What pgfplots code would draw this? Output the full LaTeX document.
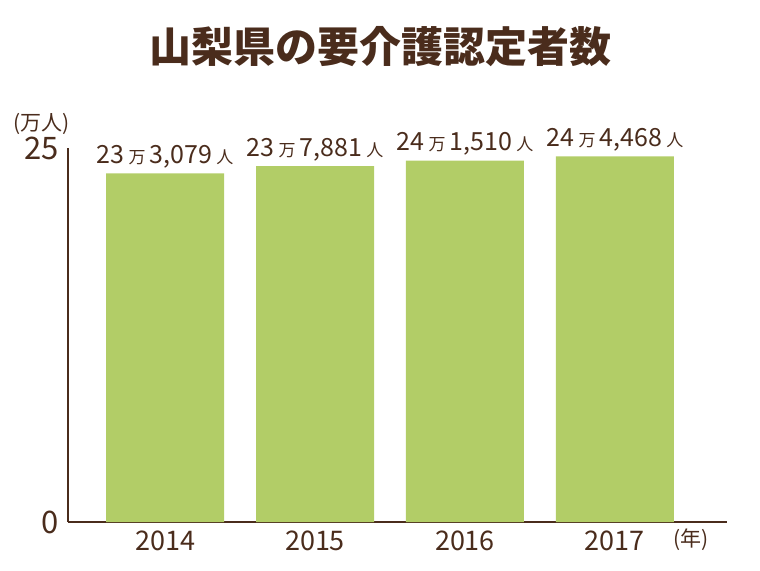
\documentclass[border=0pt]{standalone}
\usepackage{fontspec}
\setmainfont{Noto Sans CJK JP}
\usepackage{pgfplots}
\pgfplotsset{compat=1.18}
\definecolor{brn}{HTML}{4A2C1C}
\definecolor{bargreen}{HTML}{B2CD67}
\newcommand{\lab}[2]{\fontsize{12.5}{13}\selectfont #1\,{\fontsize{8.5}{9}\selectfont 万}\,#2\,{\fontsize{8.5}{9}\selectfont 人}}
\begin{document}
\begin{tikzpicture}
\path[use as bounding box] (0,0) rectangle (380pt,285pt);
\node[text=brn, font=\fontsize{21}{24}\selectfont\bfseries] at (190pt,261.5pt) {山梨県の要介護認定者数};
\begin{axis}[
  at={(34pt,24pt)}, anchor=south west,
  scale only axis, width=329.5pt, height=187pt,
  xmin=-0.647, xmax=3.747, ymin=0, ymax=25,
  axis x line=bottom, axis y line=left,
  axis line style={-, draw=brn, line width=0.6pt},
  xtick={0,1,2,3}, xticklabels={2014,2015,2016,2017},
  ytick={0,25},
  major tick length=0pt,
  tick label style={text=brn},
  xticklabel style={font=\fontsize{13.5}{15}\selectfont, yshift=-1pt},
  yticklabel style={font=\fontsize{15.5}{17}\selectfont, xshift=-1pt},
  /pgf/number format/assume math mode=true,
  ybar, bar width=59pt,
  clip=false,
  point meta=explicit symbolic,
  nodes near coords,
  nodes near coords style={text=brn, yshift=-1pt},
]
\addplot[fill=bargreen, draw=none] coordinates {
  (0,23.3079) [\lab{23}{3{,}079}]
  (1,23.7881) [\lab{23}{7{,}881}]
  (2,24.1510) [\lab{24}{1{,}510}]
  (3,24.4468) [\lab{24}{4{,}468}]
};
\node[text=brn, font=\fontsize{10.5}{12}\selectfont] at (rel axis cs:-0.040,1.065) {(万人)};
\node[text=brn, font=\fontsize{10.5}{12}\selectfont] at (rel axis cs:0.945,-0.048) {(年)};
\end{axis}
\end{tikzpicture}
\end{document}
